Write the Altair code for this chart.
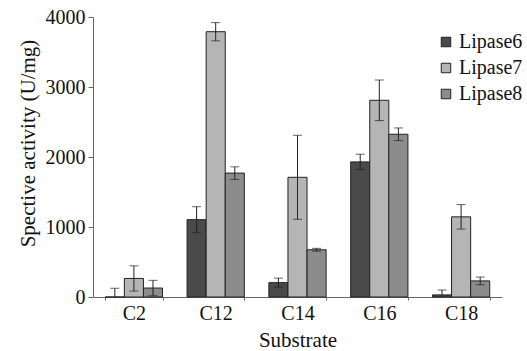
import altair as alt
import pandas as pd

substrates = ["C2", "C12", "C14", "C16", "C18"]
series = ["Lipase6", "Lipase7", "Lipase8"]
lipase6 = [0, 1105, 205, 1930, 30]
lipase7 = [265, 3790, 1710, 2810, 1145]
lipase8 = [128, 1770, 675, 2325, 230]
err6 = [125, 185, 65, 110, 70]
err7 = [180, 130, 600, 290, 175]
err8 = [110, 90, 20, 90, 55]

rows = []
for vals, errs, name in [(lipase6, err6, "Lipase6"), (lipase7, err7, "Lipase7"), (lipase8, err8, "Lipase8")]:
    for s, v, e in zip(substrates, vals, errs):
        rows.append({"Substrate": s, "Series": name, "Value": v,
                     "Hi": v + e, "Lo": max(v - e, 0)})
df = pd.DataFrame(rows)

font = "Liberation Serif"
xscale = alt.Scale(domain=substrates, paddingInner=0.3, paddingOuter=0.15)
color = alt.Color("Series:N", scale=alt.Scale(domain=series, range=["#4a4a4a", "#b5b5b5", "#8c8c8c"]),
                  legend=alt.Legend(title=None, orient="none", legendX=343, legendY=15,
                                    symbolType="square", symbolSize=90, symbolStrokeColor="#222",
                                    symbolStrokeWidth=1, labelFont=font, labelFontSize=20,
                                    labelColor="#111", rowPadding=6, labelOffset=3))

base = alt.Chart(df)
bars = base.mark_bar(stroke="#222", strokeWidth=1).encode(
    x=alt.X("Substrate:N", scale=xscale, sort=substrates,
            axis=alt.Axis(title="Substrate", labelAngle=0, tickBand="extent", tickSize=3,
                          domainColor="#666", tickColor="#666", labelPadding=3, titlePadding=6)),
    xOffset=alt.XOffset("Series:N", sort=series),
    y=alt.Y("Value:Q", scale=alt.Scale(domain=[0, 4000]),
            axis=alt.Axis(title="Spective activity (U/mg)", values=list(range(0, 4001, 500)),
                          format="d", grid=False, tickSize=5, domainColor="#666", tickColor="#666",
                          labelPadding=3, titlePadding=7, titleY=126)),
    color=color,
)
rules = base.mark_rule(color="#222", strokeWidth=1).encode(
    x=alt.X("Substrate:N", scale=xscale, sort=substrates),
    xOffset=alt.XOffset("Series:N", sort=series),
    y="Lo:Q", y2="Hi:Q",
)
caps_hi = base.mark_tick(color="#222", size=9, thickness=1, orient="horizontal").encode(
    x=alt.X("Substrate:N", scale=xscale, sort=substrates),
    xOffset=alt.XOffset("Series:N", sort=series),
    y="Hi:Q",
)
caps_lo = base.transform_filter("datum.Lo > 0").mark_tick(color="#222", size=9, thickness=1, orient="horizontal").encode(
    x=alt.X("Substrate:N", scale=xscale, sort=substrates),
    xOffset=alt.XOffset("Series:N", sort=series),
    y="Lo:Q",
)

chart = alt.layer(bars, rules, caps_hi, caps_lo).properties(
    width=409, height=280,
    autosize=alt.AutoSizeParams(type="none"),
    padding={"left": 93, "top": 17, "right": 25, "bottom": 54},
    background="white",
).configure_view(stroke=None).configure_axis(
    labelFont=font, titleFont=font, labelFontSize=20, titleFontSize=21,
    labelColor="#111", titleColor="#111", titleFontWeight="normal",
)

chart.save("out.html", embed_options={"renderer": "svg", "actions": False})
